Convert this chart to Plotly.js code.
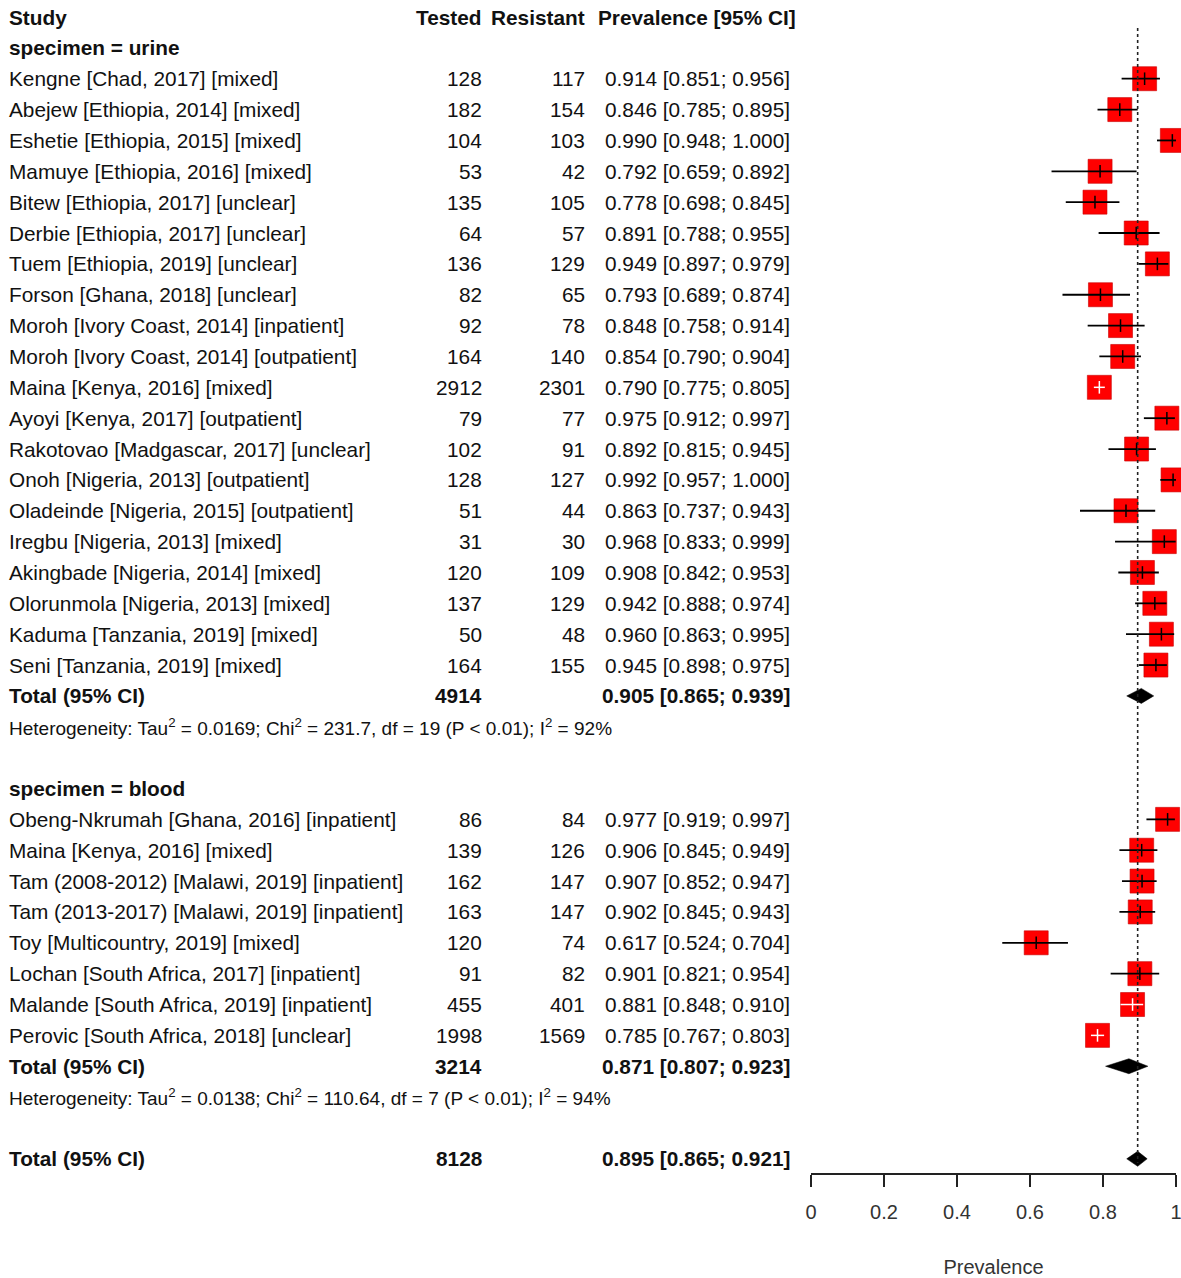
<!DOCTYPE html>
<html><head><meta charset="utf-8">
<script src="https://cdn.plot.ly/plotly-3.0.1.min.js"></script>
<style>html,body{margin:0;padding:0;background:#fff}</style>
</head><body><div id="chart" style="width:1181px;height:1278px"></div>
<script>
// ---------------- data ----------------
const columnHeaders = ["Study", "Tested", "Resistant", "Prevalence [95% CI]"];
const subgroupLabels = ["specimen = urine", "specimen = blood"];

const urineStudies = [
  "Kengne [Chad, 2017] [mixed]", "Abejew [Ethiopia, 2014] [mixed]", "Eshetie [Ethiopia, 2015] [mixed]",
  "Mamuye [Ethiopia, 2016] [mixed]", "Bitew [Ethiopia, 2017] [unclear]", "Derbie [Ethiopia, 2017] [unclear]",
  "Tuem [Ethiopia, 2019] [unclear]", "Forson [Ghana, 2018] [unclear]", "Moroh [Ivory Coast, 2014] [inpatient]",
  "Moroh [Ivory Coast, 2014] [outpatient]", "Maina [Kenya, 2016] [mixed]", "Ayoyi [Kenya, 2017] [outpatient]",
  "Rakotovao [Madgascar, 2017] [unclear]", "Onoh [Nigeria, 2013] [outpatient]", "Oladeinde [Nigeria, 2015] [outpatient]",
  "Iregbu [Nigeria, 2013] [mixed]", "Akingbade [Nigeria, 2014] [mixed]", "Olorunmola [Nigeria, 2013] [mixed]",
  "Kaduma [Tanzania, 2019] [mixed]", "Seni [Tanzania, 2019] [mixed]"
];
const urineTested    = [128, 182, 104, 53, 135, 64, 136, 82, 92, 164, 2912, 79, 102, 128, 51, 31, 120, 137, 50, 164];
const urineResistant = [117, 154, 103, 42, 105, 57, 129, 65, 78, 140, 2301, 77, 91, 127, 44, 30, 109, 129, 48, 155];
const urineEst   = [0.914, 0.846, 0.990, 0.792, 0.778, 0.891, 0.949, 0.793, 0.848, 0.854, 0.790, 0.975, 0.892, 0.992, 0.863, 0.968, 0.908, 0.942, 0.960, 0.945];
const urineLower = [0.851, 0.785, 0.948, 0.659, 0.698, 0.788, 0.897, 0.689, 0.758, 0.790, 0.775, 0.912, 0.815, 0.957, 0.737, 0.833, 0.842, 0.888, 0.863, 0.898];
const urineUpper = [0.956, 0.895, 1.000, 0.892, 0.845, 0.955, 0.979, 0.874, 0.914, 0.904, 0.805, 0.997, 0.945, 1.000, 0.943, 0.999, 0.953, 0.974, 0.995, 0.975];

const bloodStudies = [
  "Obeng-Nkrumah [Ghana, 2016] [inpatient]", "Maina [Kenya, 2016] [mixed]", "Tam (2008-2012) [Malawi, 2019] [inpatient]",
  "Tam (2013-2017) [Malawi, 2019] [inpatient]", "Toy [Multicountry, 2019] [mixed]", "Lochan [South Africa, 2017] [inpatient]",
  "Malande [South Africa, 2019] [inpatient]", "Perovic [South Africa, 2018] [unclear]"
];
const bloodTested    = [86, 139, 162, 163, 120, 91, 455, 1998];
const bloodResistant = [84, 126, 147, 147, 74, 82, 401, 1569];
const bloodEst   = [0.977, 0.906, 0.907, 0.902, 0.617, 0.901, 0.881, 0.785];
const bloodLower = [0.919, 0.845, 0.852, 0.845, 0.524, 0.821, 0.848, 0.767];
const bloodUpper = [0.997, 0.949, 0.947, 0.943, 0.704, 0.954, 0.910, 0.803];

const subgroupTotalTested = [4914, 3214];
const subgroupTotalEst    = [0.905, 0.871];
const subgroupTotalLower  = [0.865, 0.807];
const subgroupTotalUpper  = [0.939, 0.923];
const hetTau2 = ["0.0169", "0.0138"];
const hetChi2 = ["231.7", "110.64"];
const hetDf   = [19, 7];
const hetP    = ["0.01", "0.01"];
const hetI2   = ["92%", "94%"];

const overallLabel  = "Total (95% CI)";
const overallTested = 8128;
const overallEst    = 0.895;
const overallLower  = 0.865;
const overallUpper  = 0.921;

const xTickVals = [0, 0.2, 0.4, 0.6, 0.8, 1];
const xTickText = ["0", "0.2", "0.4", "0.6", "0.8", "1"];
const xAxisTitle = "Prevalence";

// ---------------- layout helpers ----------------
const W = 1181, H = 1278;
const FONT = "Liberation Sans, Arial, Helvetica, sans-serif";
const TXT = "#111";
const colX = {study: 8, tested: 483, resistant: 586, prev: 791, prevHead: 797};
const AX0 = 811, AX1 = 1176;        // pixel span of x 0..1
const ROW0 = 17, ROWH = 30.86, AXISY = 1173;
const BOX = 25;
const halfBox = (BOX / 2) / (AX1 - AX0);

const fmt = v => v.toFixed(3);
const ciText = (e, l, u) => fmt(e) + " [" + fmt(l) + "; " + fmt(u) + "]";

const annotations = [];
function txt(text, px, row, anchor, bold, size) {
  annotations.push({
    text: bold ? "<b>" + text + "</b>" : text,
    x: px / W, xref: "paper", xanchor: anchor,
    y: row, yref: "y", yanchor: "middle",
    showarrow: false, borderpad: 0,
    font: {family: FONT, size: size || 20.8, color: TXT}
  });
}

// build rows
let row = 0;
txt(columnHeaders[0], colX.study, row, "left", true);
txt(columnHeaders[1], colX.tested, row, "right", true);
txt(columnHeaders[2], colX.resistant, row, "right", true);
txt(columnHeaders[3], colX.prevHead, row, "right", true);
row++;

const studyX = [], studyY = [], studyLo = [], studyHi = [];
const diamonds = [];
const groups = [
  {studies: urineStudies, tested: urineTested, res: urineResistant, est: urineEst, lo: urineLower, hi: urineUpper},
  {studies: bloodStudies, tested: bloodTested, res: bloodResistant, est: bloodEst, lo: bloodLower, hi: bloodUpper}
];
groups.forEach((g, gi) => {
  txt(subgroupLabels[gi], colX.study, row, "left", true);
  row++;
  g.studies.forEach((s, i) => {
    txt(s, colX.study, row, "left", false);
    txt(String(g.tested[i]), colX.tested, row, "right", false);
    txt(String(g.res[i]), colX.resistant, row, "right", false);
    txt(ciText(g.est[i], g.lo[i], g.hi[i]), colX.prev, row, "right", false);
    studyX.push(g.est[i]); studyY.push(row); studyLo.push(g.lo[i]); studyHi.push(g.hi[i]);
    row++;
  });
  txt("Total (95% CI)", colX.study, row, "left", true);
  txt(String(subgroupTotalTested[gi]), colX.tested, row, "right", true);
  txt(ciText(subgroupTotalEst[gi], subgroupTotalLower[gi], subgroupTotalUpper[gi]), colX.prev, row, "right", true);
  diamonds.push({e: subgroupTotalEst[gi], l: subgroupTotalLower[gi], u: subgroupTotalUpper[gi], r: row});
  row++;
  txt("Heterogeneity: Tau<sup>2</sup> = " + hetTau2[gi] + "; Chi<sup>2</sup> = " + hetChi2[gi] +
      ", df = " + hetDf[gi] + " (P &lt; " + hetP[gi] + "); I<sup>2</sup> = " + hetI2[gi],
      colX.study, row, "left", false, 19);
  row++;
  row++; // blank
});
txt(overallLabel, colX.study, row, "left", true);
txt(String(overallTested), colX.tested, row, "right", true);
txt(ciText(overallEst, overallLower, overallUpper), colX.prev, row, "right", true);
diamonds.push({e: overallEst, l: overallLower, u: overallUpper, r: row});

// ---------------- traces ----------------
const traces = [];
traces.push({
  type: "scatter", mode: "markers", x: studyX, y: studyY, cliponaxis: false, hoverinfo: "skip",
  marker: {symbol: "square", size: BOX - 1, color: "#ff0000", line: {color: "#c80000", width: 0.6}}
});
const blackL = {x: [], y: []}, whiteL = {x: [], y: []};
const tickCol = [];
studyX.forEach((e, i) => {
  const inside = studyLo[i] >= e - halfBox && studyHi[i] <= e + halfBox;
  const t = inside ? whiteL : blackL;
  t.x.push(studyLo[i], studyHi[i], null); t.y.push(studyY[i], studyY[i], null);
  tickCol.push(inside ? "#ffffff" : "#000000");
});
traces.push({type: "scatter", mode: "lines", x: blackL.x, y: blackL.y, cliponaxis: false, hoverinfo: "skip",
  line: {color: "#000", width: 1.8}});
traces.push({type: "scatter", mode: "lines", x: whiteL.x, y: whiteL.y, cliponaxis: false, hoverinfo: "skip",
  line: {color: "#fff", width: 1.5}});
traces.push({type: "scatter", mode: "markers", x: studyX, y: studyY, cliponaxis: false, hoverinfo: "skip",
  marker: {symbol: "line-ns", size: 9, line: {color: tickCol, width: 1.5}}});
const dh = 7.5 / ROWH;
diamonds.forEach(d => {
  traces.push({type: "scatter", mode: "lines", fill: "toself", fillcolor: "#000",
    x: [d.l, d.e, d.u, d.e, d.l], y: [d.r, d.r - dh, d.r, d.r + dh, d.r],
    line: {color: "#000", width: 0.5}, cliponaxis: false, hoverinfo: "skip"});
});

const yTop = (28 - ROW0) / ROWH, yBot = (1163 - ROW0) / ROWH;
const layout = {
  width: W, height: H, autosize: false,
  margin: {l: 0, r: 0, t: 0, b: H - AXISY},
  paper_bgcolor: "#fff", plot_bgcolor: "#fff",
  showlegend: false, hovermode: false,
  xaxis: {
    domain: [AX0 / W, AX1 / W], range: [0, 1], fixedrange: true,
    tickmode: "array", tickvals: xTickVals, ticktext: xTickText,
    ticks: "outside", ticklen: 12, tickwidth: 1.5, tickcolor: "#222",
    showline: true, linecolor: "#222", linewidth: 1.5,
    showgrid: false, zeroline: false, automargin: false,
    ticklabelstandoff: 8, ticklabeloverflow: "allow",
    tickfont: {family: FONT, size: 20, color: "#333"},
    title: {text: xAxisTitle, standoff: 42, font: {family: FONT, size: 20, color: "#333"}}
  },
  yaxis: {
    range: [(AXISY - ROW0) / ROWH, -ROW0 / ROWH], visible: false, fixedrange: true,
    showgrid: false, zeroline: false
  },
  shapes: [{
    type: "line", xref: "x", yref: "y", x0: overallEst, x1: overallEst, y0: yTop, y1: yBot,
    line: {color: "#222", width: 1.6, dash: "dot"}
  }],
  annotations: annotations
};
Plotly.newPlot("chart", traces, layout, {staticPlot: true, displayModeBar: false});
</script>
</body></html>
